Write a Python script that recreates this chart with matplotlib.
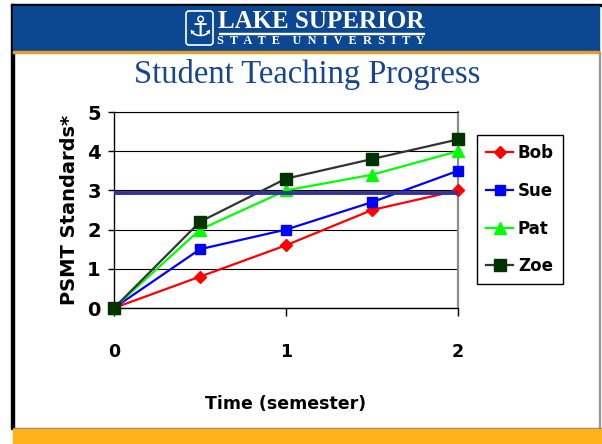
import matplotlib
matplotlib.use("Agg")
import matplotlib.pyplot as plt
from matplotlib.patches import Rectangle, FancyBboxPatch

# data
semesters = [0, 0.5, 1, 1.5, 2]
students = ["Bob", "Sue", "Pat", "Zoe"]
bob = [0, 0.8, 1.6, 2.5, 3.0]
sue = [0, 1.5, 2.0, 2.7, 3.5]
pat = [0, 2.0, 3.0, 3.4, 4.0]
zoe = [0, 2.2, 3.3, 3.8, 4.3]
target = 2.93
x_ticks = [0, 1, 2]
y_ticks = [0, 1, 2, 3, 4, 5]

series = [bob, sue, pat, zoe]
line_colors = ["#ff0000", "#0000ff", "#00ff00", "#333333"]
marker_colors = ["#ff0000", "#0000ff", "#00ff00", "#003300"]
markers = ["D", "s", "^", "s"]
marker_sizes = [6, 7.5, 8, 8]

W, H = 602, 444
fig = plt.figure(figsize=(W / 100, H / 100), dpi=100)

# slide background drawn in pixel coordinates
bg = fig.add_axes([0, 0, 1, 1], zorder=0)
bg.set_xlim(0, W)
bg.set_ylim(H, 0)
bg.axis("off")
bg.add_patch(Rectangle((11, 4), 590, 2.5, color="black"))
bg.add_patch(Rectangle((11, 4), 2.5, 425, color="black"))
bg.add_patch(Rectangle((13, 6), 586, 46, color="#0c4792"))
bg.add_patch(Rectangle((13, 51.5), 586, 1.5, color="#e0a030"))
bg.add_patch(Rectangle((598.5, 52), 1.5, 377, color="#9a9a9a"))
bg.add_patch(Rectangle((13, 428), 589, 1, color="#8a8a8a"))
bg.add_patch(Rectangle((13, 429), 589, 15, color="#ffb11b"))

# university logo
bg.add_patch(FancyBboxPatch((186, 11), 27, 34, boxstyle="round,pad=0,rounding_size=3",
                            fill=False, edgecolor="white", lw=1.2))
bg.text(199.5, 28, "\u2693", color="white", fontsize=20, ha="center", va="center",
        family="DejaVu Sans")
bg.text(321, 22, "LAKE SUPERIOR", color="white", fontsize=18, fontweight="bold",
        family="Liberation Serif", ha="center", va="center")
bg.add_patch(Rectangle((219, 33), 205, 1.3, color="white"))
bg.text(321, 41.5, "S  T  A  T  E    U  N  I  V  E  R  S  I  T  Y", color="white",
        fontsize=8.8, fontweight="bold", family="Liberation Serif", ha="center", va="center")

bg.text(307, 74, "Student Teaching Progress", color="#17458f", fontsize=23.5,
        family="Liberation Serif", ha="center", va="center")

# chart
ax = fig.add_axes([114 / W, 1 - 308 / H, 344 / W, 196 / H], zorder=1)
ax.set_facecolor("none")
for vals, name, lc, mc, m, ms in zip(series, students, line_colors, marker_colors,
                                     markers, marker_sizes):
    ax.plot(semesters, vals, color=lc, lw=1.6, marker=m, markersize=ms,
            markerfacecolor=mc, markeredgecolor=mc, label=name, clip_on=False, zorder=3)
ax.axhline(target, color="#333399", lw=2.8, zorder=4)

ax.set_xlim(0, 2)
ax.set_ylim(0, 5)
ax.set_xticks(x_ticks)
ax.set_yticks(y_ticks)
ax.yaxis.grid(True, color="black", lw=0.8)
ax.set_axisbelow(True)
ax.spines["top"].set_linewidth(0.8)
ax.spines["right"].set_color("#8c8c8c")
ax.spines["right"].set_linewidth(1.6)
ax.spines["left"].set_linewidth(1.0)
ax.spines["bottom"].set_linewidth(1.0)
ax.tick_params(axis="x", direction="out", length=5.5, width=1, pad=20, labelsize=12.5)
ax.tick_params(axis="y", direction="out", length=4.5, width=1, pad=5, labelsize=14)
for lab in ax.get_xticklabels() + ax.get_yticklabels():
    lab.set_fontweight("bold")

ax.set_xlabel("Time (semester)", fontsize=12.5, fontweight="bold", labelpad=24)
ax.set_ylabel("PSMT Standards*", fontsize=14, fontweight="bold", labelpad=6)

leg = fig.legend(loc="upper left", bbox_to_anchor=(477 / W, 1 - 135 / H), frameon=True,
                 fancybox=False, framealpha=1, edgecolor="black", numpoints=1,
                 prop={"weight": "bold", "size": 12}, handlelength=1.6,
                 handletextpad=0.3, labelspacing=1.18, borderpad=0.55, borderaxespad=0)
leg.get_frame().set_linewidth(1.0)

fig.savefig("out.png", dpi=100)
